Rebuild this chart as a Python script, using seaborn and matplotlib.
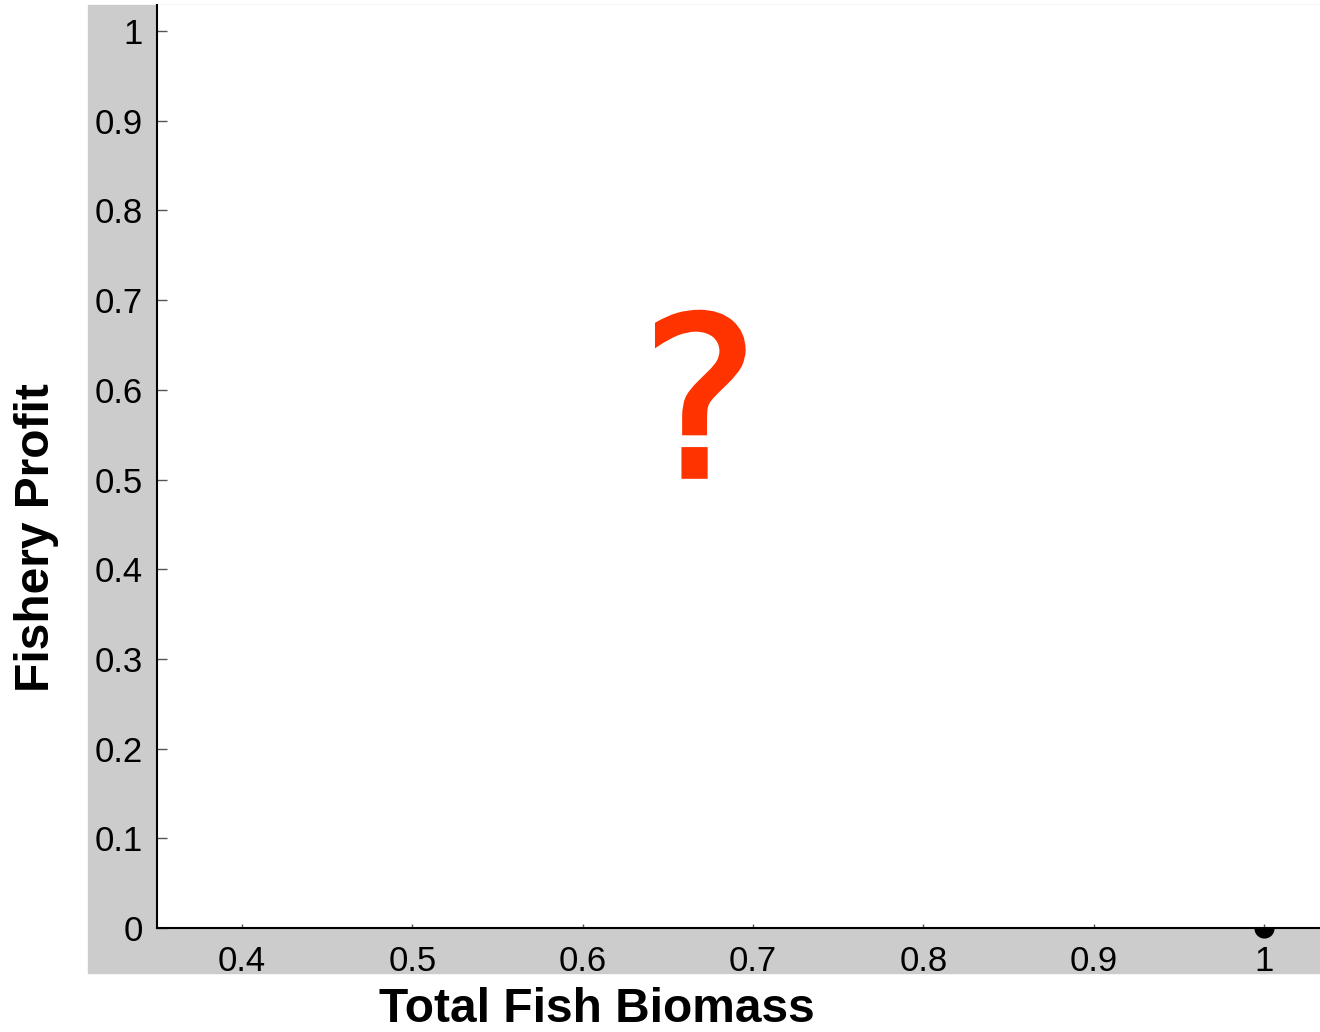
import numpy as np
import matplotlib
matplotlib.use("Agg")
import matplotlib.pyplot as plt
import matplotlib.patheffects as pe
import seaborn as sns
from matplotlib.patches import Rectangle

# datos del grafico
biomass = [1.0]
profit = [0.0]
xticks = [0.4, 0.5, 0.6, 0.7, 0.8, 0.9, 1.0]
xtick_labels = ["0.4", "0.5", "0.6", "0.7", "0.8", "0.9", "1"]
yticks = [0.0, 0.1, 0.2, 0.3, 0.4, 0.5, 0.6, 0.7, 0.8, 0.9, 1.0]
ytick_labels = ["0", "0.1", "0.2", "0.3", "0.4", "0.5", "0.6", "0.7", "0.8", "0.9", "1"]

sns.set_style("white")
plt.rcParams['font.family'] = ['Liberation Sans', 'DejaVu Sans']
plt.rcParams['text.color'] = 'black'
plt.rcParams['xtick.color'] = 'black'
plt.rcParams['ytick.color'] = 'black'

fig = plt.figure(figsize=(13.2, 10.32), dpi=100)

# banda gris detras de las etiquetas
fig.patches.append(Rectangle((88/1320, 59/1032), 1 - 88/1320, 968/1032,
                             transform=fig.transFigure, color="#cccccc", zorder=-10))

ax = fig.add_axes([157/1320, 104/1032, 1 - 157/1320, 923/1032])
ax.set_zorder(5)
ax.set_facecolor("white")

sns.scatterplot(x=biomass, y=profit, ax=ax, color="black", s=210,
                edgecolor="black", linewidth=0, zorder=1)
# solo se ve la mitad de abajo del punto (debajo del eje)
recorte = Rectangle((0, -0.1), 1, 0.1, transform=ax.transAxes)
ax.collections[0].set_clip_path(recorte)

ax.set_xlim(0.35, 1.033)
ax.set_ylim(0, 1.029)
ax.set_xticks(xticks)
ax.set_xticklabels(xtick_labels)
ax.set_yticks(yticks)
ax.set_yticklabels(ytick_labels)

ax.tick_params(axis="y", left=True, direction="in", length=7, width=1, pad=10,
               labelsize=25, color="#555555", labelcolor="black")
ax.tick_params(axis="x", bottom=True, direction="in", length=3, width=1, pad=12,
               labelsize=25, color="#555555", labelcolor="black")

for s in ["top", "right"]:
    ax.spines[s].set_visible(False)
for s in ["left", "bottom"]:
    ax.spines[s].set_color("black")
    ax.spines[s].set_linewidth(1.5)
    ax.spines[s].set_zorder(3)

ax.text(0.467, 0.555, "?", transform=ax.transAxes, ha="center", va="center",
        fontsize=160, color="#ff3300", family="DejaVu Sans",
        path_effects=[pe.withStroke(linewidth=3, foreground="#ff3300", joinstyle="miter")])

fig.text(597/1320, 1 - 1010/1032, "Total Fish Biomass", ha="center", va="center",
         fontsize=34.5, fontweight="bold")
fig.text(37/1320, 1 - 538/1032, "Fishery Profit", ha="center", va="center",
         fontsize=34.5, fontweight="bold", rotation=90)

fig.savefig("out.png", dpi=100)
